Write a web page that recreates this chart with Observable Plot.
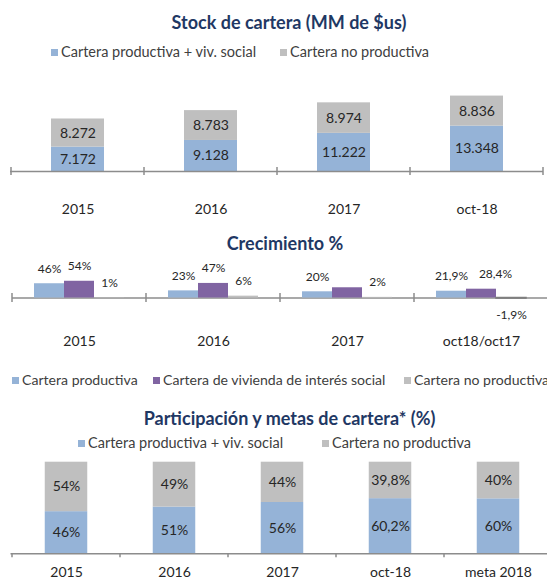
<!DOCTYPE html>
<html>
<head>
<meta charset="utf-8">
<script src="https://cdn.jsdelivr.net/npm/d3@7"></script>
<script src="https://cdn.jsdelivr.net/npm/@observablehq/plot@0.6"></script>
<style>
  body { margin: 0; background: #fff; }
  #root { position: relative; width: 547px; height: 582px; overflow: hidden; font-family: Lato, sans-serif; background: #fff; }
  .chart { position: absolute; left: 0; }
  .title { position: absolute; transform: translateX(-50%); font-weight: bold; font-size: 18px; color: #1F3864; line-height: 20px; white-space: nowrap; z-index: 2; }
  .leg { position: absolute; display: flex; align-items: center; font-size: 14.5px; color: #404040; line-height: 18px; white-space: nowrap; z-index: 2; }
  .leg.small { font-size: 14.1px; }
  .sw { width: 7px; height: 7px; margin-right: 3px; flex: none; }
</style>
</head>
<body>
<div id="root"></div>
<script>
// ---------- data ----------
const stockCats = ["2015", "2016", "2017", "oct-18"];
const stockProd = [7172, 9128, 11222, 13348];     // Cartera productiva + viv. social
const stockNoProd = [8272, 8783, 8974, 8836];     // Cartera no productiva

const growthCats = ["2015", "2016", "2017", "oct18/oct17"];
const growthProd = [46, 23, 20, 21.9];            // Cartera productiva
const growthViv = [54, 47, 33, 28.4];             // Cartera de vivienda de interés social
const growthVivLabeled = [true, true, false, true];
const growthNoProd = [1, 6, 2, -1.9];             // Cartera no productiva

const shareCats = ["2015", "2016", "2017", "oct-18", "meta 2018"];
const shareProd = [46, 51, 56, 60.2, 60];
const shareNoProd = [54, 49, 44, 39.8, 40];

const titles = ["Stock de cartera (MM de $us)", "Crecimiento %", "Participación y metas de cartera* (%)"];
const legend1 = ["Cartera productiva + viv. social", "Cartera no productiva"];
const legend2 = ["Cartera productiva", "Cartera de vivienda de interés social", "Cartera no productiva"];

// ---------- styles ----------
const BLUE = "#95B3D7", PURPLE = "#8064A2", GRAY = "#BFBFBF", DARKGRAY = "#7F7F7F";
const AXIS = "#8C8C8C", LABEL = "#262626";
const STYLE = {fontFamily: "Lato, sans-serif", fontSize: "14px", background: "transparent", maxWidth: "none", overflow: "visible"};

const fmtThousands = v => d3.format(",")(v).replace(/,/g, ".");
const fmtPct = v => (Number.isInteger(v) ? String(v) : v.toFixed(1).replace(".", ",")) + "%";

function boundaryTicks(cats, up, down) {
  return (index, scales) => {
    const x = scales.x, y0 = scales.y(0), bw = x.bandwidth();
    const xs = cats.map(c => x(c)).concat([x(cats[cats.length - 1]) + bw]);
    const g = d3.create("svg:g").attr("stroke", AXIS).attr("stroke-width", 1.5);
    g.selectAll("line").data(xs).join("line")
      .attr("x1", d => d).attr("x2", d => d)
      .attr("y1", y0 - up).attr("y2", y0 + down);
    return g.node();
  };
}

const root = document.getElementById("root");
function place(node, top) {
  const d = document.createElement("div");
  d.className = "chart";
  d.style.top = top + "px";
  d.appendChild(node);
  root.appendChild(d);
}
function addTitle(text, cx, cy) {
  const d = document.createElement("div");
  d.className = "title";
  d.textContent = text;
  d.style.left = cx + "px";
  d.style.top = (cy - 10) + "px";
  root.appendChild(d);
}
function addLegendItem(text, color, x, cy, cls) {
  const d = document.createElement("div");
  d.className = "leg" + (cls ? " " + cls : "");
  d.style.left = x + "px";
  d.style.top = (cy - 9) + "px";
  const s = document.createElement("span");
  s.className = "sw";
  s.style.background = color;
  d.appendChild(s);
  d.appendChild(document.createTextNode(text));
  root.appendChild(d);
}

// ---------- Chart 1: Stock de cartera ----------
const stockData = stockCats.flatMap((c, i) => [
  {cat: c, serie: "prod", value: stockProd[i]},
  {cat: c, serie: "noprod", value: stockNoProd[i]}
]);
place(Plot.plot({
  width: 547, height: 160,
  marginTop: 26, marginBottom: 49, marginLeft: 10, marginRight: 4,
  x: {domain: stockCats, padding: 0, axis: null},
  y: {domain: [0, 25000], axis: null},
  color: {domain: ["prod", "noprod"], range: [BLUE, GRAY]},
  style: STYLE,
  marks: [
    Plot.barY(stockData, {x: "cat", y: "value", fill: "serie", insetLeft: 40, insetRight: 40}),
    Plot.text(stockData, Plot.stackY({x: "cat", y: "value", z: "serie", text: d => fmtThousands(d.value), fontSize: 14, fill: LABEL})),
    Plot.ruleY([0], {stroke: AXIS, strokeWidth: 1.5}),
    boundaryTicks(stockCats, 4, 4),
    Plot.text(stockCats, {x: d => d, y: () => 0, dy: 38, fontSize: 14, fill: LABEL})
  ]
}), 60);

// ---------- Chart 2: Crecimiento % ----------
const B2 = (548 - 12) / 4, G2 = 22, W2 = 30;
const LAST = growthCats[growthCats.length - 1];
const growthSeries = [
  {key: "prod", values: growthProd, color: BLUE, labeled: growthCats.map(() => true), nudge: 0},
  {key: "viv", values: growthViv, color: PURPLE, labeled: growthVivLabeled, nudge: 14},
  {key: "noprod", values: growthNoProd, color: GRAY, labeled: growthCats.map(() => true), nudge: 0}
];
const growthMarks = [Plot.ruleY([0], {stroke: AXIS, strokeWidth: 1.5})];
growthSeries.forEach((s, k) => {
  const data = growthCats.map((c, i) => ({cat: c, value: s.values[i], show: s.labeled[i]}));
  const insets = {insetLeft: G2 + k * W2, insetRight: B2 - G2 - (k + 1) * W2};
  growthMarks.push(Plot.barY(data.filter(d => d.value >= 0), {x: "cat", y: "value", fill: s.color, ...insets}));
  growthMarks.push(Plot.barY(data.filter(d => d.value < 0), {x: "cat", y: "value", fill: DARKGRAY, stroke: DARKGRAY, strokeWidth: 1.5, ...insets}));
  const dx = G2 + (k + 0.5) * W2 - B2 / 2;
  const pos = data.filter(d => d.show && d.value >= 0);
  // labels of the last group are spread apart (as in the reference) so they don't collide
  growthMarks.push(Plot.text(pos.filter(d => d.cat !== LAST), {x: "cat", y: "value", text: d => fmtPct(d.value), dx, dy: -15, fontSize: 12, fill: LABEL}));
  growthMarks.push(Plot.text(pos.filter(d => d.cat === LAST), {x: "cat", y: "value", text: d => fmtPct(d.value), dx: dx + s.nudge, dy: -15, fontSize: 12, fill: LABEL}));
  growthMarks.push(Plot.text(data.filter(d => d.show && d.value < 0), {x: "cat", y: "value", text: d => fmtPct(d.value), dx, dy: 17, fontSize: 12, fill: LABEL}));
});
growthMarks.push(boundaryTicks(growthCats, 4.5, 4.5));
growthMarks.push(Plot.text(growthCats, {x: d => d, y: () => 0, dy: 43.5, fontSize: 14, fill: LABEL}));
place(Plot.plot({
  width: 548, height: 130,
  marginTop: 41.5, marginBottom: 26.5, marginLeft: 12, marginRight: 0,
  x: {domain: growthCats, padding: 0, axis: null},
  y: {domain: [-100, 100], axis: null},
  style: STYLE,
  marks: growthMarks
}), 225);

// ---------- Chart 3: Participación ----------
const shareData = shareCats.flatMap((c, i) => [
  {cat: c, serie: "prod", value: shareProd[i]},
  {cat: c, serie: "noprod", value: shareNoProd[i]}
]);
place(Plot.plot({
  width: 553, height: 127,
  marginTop: 6.7, marginBottom: 28.7, marginLeft: 10.5, marginRight: 0,
  x: {domain: shareCats, padding: 0, axis: null},
  y: {domain: [0, 100], axis: null},
  color: {domain: ["prod", "noprod"], range: [BLUE, GRAY]},
  style: STYLE,
  marks: [
    Plot.barY(shareData, {x: "cat", y: "value", fill: "serie", insetLeft: 32.75, insetRight: 32.75}),
    Plot.text(shareData, Plot.stackY({x: "cat", y: "value", z: "serie", text: d => fmtPct(d.value), fontSize: 14, fill: LABEL})),
    Plot.ruleY([0], {stroke: AXIS, strokeWidth: 1.5}),
    boundaryTicks(shareCats, 0, 4),
    Plot.text(shareCats, {x: d => d, y: () => 0, dy: 18.4, fontSize: 14, fill: LABEL})
  ]
}), 455);

// ---------- titles & legends ----------
addTitle(titles[0], 289, 22);
addTitle(titles[1], 285, 243);
addTitle(titles[2], 289.5, 418);

addLegendItem(legend1[0], BLUE, 51, 52);
addLegendItem(legend1[1], GRAY, 280, 52);

addLegendItem(legend2[0], BLUE, 12, 380, "small");
addLegendItem(legend2[1], PURPLE, 153, 380, "small");
addLegendItem(legend2[2], GRAY, 404, 380, "small");

addLegendItem(legend1[0], BLUE, 78, 443);
addLegendItem(legend1[1], GRAY, 322, 443);
</script>
</body>
</html>
